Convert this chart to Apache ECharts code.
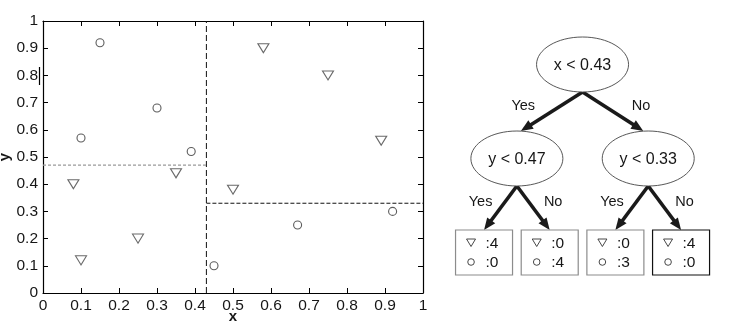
<!DOCTYPE html>
<html>
<head>
<meta charset="utf-8">
<script src="https://cdn.jsdelivr.net/npm/echarts@6/dist/echarts.min.js"></script>
<style>html,body{margin:0;padding:0;background:#fff}#c{width:731px;height:336px}</style>
</head>
<body>
<div id="c"></div>
<script>
// ---- data ----
const circleX = [0.15, 0.10, 0.30, 0.39, 0.45, 0.67, 0.92];
const circleY = [0.92, 0.57, 0.68, 0.52, 0.10, 0.25, 0.30];
const triX = [0.08, 0.10, 0.25, 0.35, 0.50, 0.58, 0.75, 0.89];
const triY = [0.40, 0.12, 0.20, 0.44, 0.38, 0.90, 0.80, 0.56];
const splitX = 0.43;      // root split
const splitYLeft = 0.47;  // left child split
const splitYRight = 0.33; // right child split
const axisTicks = [0, 0.1, 0.2, 0.3, 0.4, 0.5, 0.6, 0.7, 0.8, 0.9, 1];
const splitLabels = ['x < 0.43', 'y < 0.47', 'y < 0.33'];
const branchLabels = ['Yes', 'No'];
const leafTriangles = [4, 0, 0, 4];
const leafCircles = [0, 4, 3, 0];

// ---- styles ----
const FONT = 'Liberation Sans, Arial, sans-serif';
const INK = '#161616';
const leafBorder = ['#8c8c8c', '#8c8c8c', '#8c8c8c', '#111'];

const chart = echarts.init(document.getElementById('c'), null, {renderer: 'canvas'});

function fmt(v) { return String(Math.round(v * 10) / 10); }

const mainAxisCommon = {
  type: 'value', min: 0, max: 1, interval: 0.1,
  axisLine: {show: true, onZero: false, lineStyle: {color: '#000', width: 1.2}},
  axisTick: {show: true, inside: true, length: 5, lineStyle: {color: '#000', width: 1}},
  splitLine: {show: false}
};

function arrowEls(x1, y1, x2, y2) {
  const dx = x2 - x1, dy = y2 - y1, len = Math.hypot(dx, dy);
  const ux = dx / len, uy = dy / len;
  const L = 12, W = 10;
  const bx = x2 - ux * L, by = y2 - uy * L;
  const nx = -uy, ny = ux;
  return [
    {type: 'line', shape: {x1: x1, y1: y1, x2: x2 - ux * (L - 2), y2: y2 - uy * (L - 2)},
     style: {stroke: '#1a1a1a', lineWidth: 3.6, lineCap: 'butt'}},
    {type: 'polygon', shape: {points: [[x2, y2], [bx + nx * W / 2, by + ny * W / 2], [bx - nx * W / 2, by - ny * W / 2]]},
     style: {fill: '#1a1a1a'}}
  ];
}

function renderTree(params, api) {
  const RX = 46, RY = 27.5, BW = 57, BH = 45;
  const leaves = leafTriangles.map((t, i) => ({x: i, y: 2}));
  const inner = [
    {x: (leaves[0].x + leaves[1].x) / 2, y: 1, kids: [0, 1]},
    {x: (leaves[2].x + leaves[3].x) / 2, y: 1, kids: [2, 3]}
  ];
  const root = {x: (inner[0].x + inner[1].x) / 2, y: 0};
  const P = (n) => api.coord([n.x, n.y]);
  const els = [];
  const rp = P(root);

  function edgeLabel(x1, y1, x2, y2, k) {
    const mx = (x1 + x2) / 2, my = (y1 + y2) / 2;
    const off = 0.3 * Math.abs(x2 - x1) + 10;
    els.push({type: 'text', style: {text: branchLabels[k], x: mx + (k === 0 ? -off : off), y: my - 6,
      fill: INK, font: '14.5px ' + FONT, align: 'center', verticalAlign: 'middle'}});
  }

  // root -> inner
  inner.forEach((n, k) => {
    const cp = P(n);
    const sx = rp[0], sy = rp[1] + RY;
    const ex = cp[0] + (k === 0 ? 4 : -5), ey = cp[1] - RY;
    els.push(...arrowEls(sx, sy, ex, ey));
    edgeLabel(sx, sy, ex, ey, k);
  });
  // inner -> leaves
  inner.forEach((n) => {
    const cp = P(n);
    n.kids.forEach((li, k) => {
      const lp = P(leaves[li]);
      const sx = cp[0], sy = cp[1] + RY, ex = lp[0], ey = lp[1] - BH / 2;
      els.push(...arrowEls(sx, sy, ex, ey));
      edgeLabel(sx, sy, ex, ey, k);
    });
  });
  // ellipses
  [root, inner[0], inner[1]].forEach((n, i) => {
    const p = P(n);
    els.push({type: 'ellipse', shape: {cx: p[0], cy: p[1], rx: RX, ry: RY},
      style: {fill: '#fff', stroke: '#444', lineWidth: 0.9}});
    els.push({type: 'text', style: {text: splitLabels[i], x: p[0], y: p[1] + 1,
      fill: INK, font: '16px ' + FONT, align: 'center', verticalAlign: 'middle'}});
  });
  // leaves
  leaves.forEach((n, i) => {
    const p = P(n);
    const left = p[0] - BW / 2, top = p[1] - BH / 2;
    els.push({type: 'rect', shape: {x: left, y: top, width: BW, height: BH},
      style: {fill: '#fff', stroke: leafBorder[i], lineWidth: 1.2}});
    const r1 = p[1] - 10, r2 = p[1] + 9.5, sx = left + 15.5;
    els.push({type: 'polygon', shape: {points: [[sx - 4.5, r1 - 3.5], [sx + 4.5, r1 - 3.5], [sx, r1 + 4]]},
      style: {fill: 'none', stroke: '#333', lineWidth: 0.9}});
    els.push({type: 'circle', shape: {cx: sx, cy: r2, r: 3.3},
      style: {fill: 'none', stroke: '#333', lineWidth: 0.9}});
    els.push({type: 'text', style: {text: ':' + leafTriangles[i], x: left + 30, y: r1 + 1,
      fill: INK, font: '15.5px ' + FONT, verticalAlign: 'middle'}});
    els.push({type: 'text', style: {text: ':' + leafCircles[i], x: left + 30, y: r2 + 1,
      fill: INK, font: '15.5px ' + FONT, verticalAlign: 'middle'}});
  });
  return {type: 'group', children: els};
}

const option = {
  animation: false,
  backgroundColor: '#fff',
  grid: [
    {left: 43, top: 21, width: 380, height: 272, containLabel: false, outerBoundsMode: 'none'},
    {left: 451.2, top: 17.5, width: 262.7, height: 282, containLabel: false, outerBoundsMode: 'none'}
  ],
  xAxis: [
    Object.assign({}, mainAxisCommon, {
      gridIndex: 0, position: 'bottom', name: 'x', nameLocation: 'middle', nameGap: 16, nameMoveOverlap: false,
      nameTextStyle: {fontFamily: FONT, fontSize: 15, fontWeight: 'bold', color: INK},
      axisLabel: {fontFamily: FONT, fontSize: 15.5, color: INK, margin: 5, formatter: fmt}
    }),
    Object.assign({}, mainAxisCommon, {gridIndex: 0, position: 'top', axisLabel: {show: false}}),
    {gridIndex: 1, type: 'value', min: -0.5, max: 3.5, show: false}
  ],
  yAxis: [
    Object.assign({}, mainAxisCommon, {
      gridIndex: 0, position: 'left', name: 'y', nameLocation: 'middle', nameGap: 31, nameMoveOverlap: false,
      nameTextStyle: {fontFamily: FONT, fontSize: 15, fontWeight: 'bold', color: INK},
      axisLabel: {fontFamily: FONT, fontSize: 15.5, color: INK, margin: 5, formatter: fmt}
    }),
    Object.assign({}, mainAxisCommon, {gridIndex: 0, position: 'right', axisLabel: {show: false}}),
    {gridIndex: 1, type: 'value', min: -0.5, max: 2.5, inverse: true, show: false}
  ],
  series: [
    {type: 'line', xAxisIndex: 0, yAxisIndex: 0, symbol: 'none', silent: true,
     data: [[splitX, 0], [splitX, 1]], lineStyle: {color: '#111', width: 1, type: [6, 3]}},
    {type: 'line', xAxisIndex: 0, yAxisIndex: 0, symbol: 'none', silent: true,
     data: [[0, splitYLeft], [splitX, splitYLeft]], lineStyle: {color: '#9a9a9a', width: 1.3, type: [3, 2]}},
    {type: 'line', xAxisIndex: 0, yAxisIndex: 0, symbol: 'none', silent: true,
     data: [[splitX, splitYRight], [1, splitYRight]], lineStyle: {color: '#111', width: 1, type: [4, 2]}},
    {type: 'scatter', xAxisIndex: 0, yAxisIndex: 0, symbol: 'circle', symbolSize: 8,
     data: circleX.map((x, i) => [x, circleY[i]]),
     itemStyle: {color: '#fff', borderColor: '#333', borderWidth: 1.1}},
    {type: 'scatter', xAxisIndex: 0, yAxisIndex: 0, symbol: 'triangle', symbolRotate: 180, symbolSize: [11, 9],
     data: triX.map((x, i) => [x, triY[i]]),
     itemStyle: {color: '#fff', borderColor: '#444', borderWidth: 1.1}},
    {type: 'custom', xAxisIndex: 2, yAxisIndex: 2, clip: false, silent: true,
     data: [[0, 0]], renderItem: renderTree}
  ],
  graphic: [
    {type: 'line', shape: {x1: 39.5, y1: 67, x2: 39.5, y2: 85}, style: {stroke: '#000', lineWidth: 1.2}}
  ]
};
chart.setOption(option);
</script>
</body>
</html>
